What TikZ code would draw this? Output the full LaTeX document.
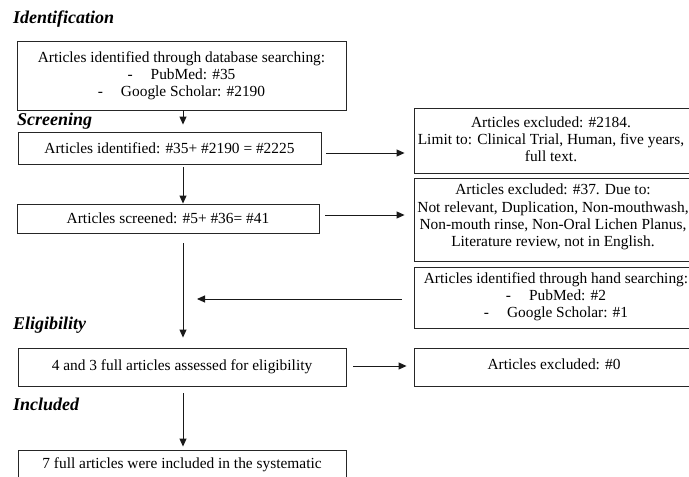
\documentclass[tikz,border=0pt]{standalone}
\usepackage{fontspec}
\setmainfont{Liberation Serif}
\usetikzlibrary{arrows.meta}
\begin{document}
\begin{tikzpicture}[x=1pt,y=-1pt,
 box/.style={draw=black!85,line width=0.9pt,inner sep=0pt,align=center,font=\fontsize{15.4}{17.2}\selectfont},
 txt/.style={inner sep=0pt,align=center,font=\fontsize{15.4}{17.2}\selectfont},
 head/.style={inner sep=0pt,anchor=base west,font=\fontsize{18}{20}\selectfont\bfseries\itshape},
 arr/.style={line width=0.9pt,draw=black!90,-{Triangle[length=8pt,width=7pt]}}]
\useasboundingbox (0,0) rectangle (689,477);
\clip (0,0) rectangle (689,477);

\node[head] (h1) at (13,23) {Identification};
\node[head] (h2) at (17,125) {Screening};
\node[head] (h3) at (13,329) {Eligibility};
\node[head] (h4) at (13,410) {Included};

\node[box,minimum width=329pt,minimum height=69pt] (A) at (181.5,75.5)
  {Articles identified through database searching:\\-\hspace{18pt}PubMed: \#35\\-\hspace{18pt}Google Scholar: \#2190};
\node[box,minimum width=303pt,minimum height=32pt] (B) at (169.5,148)
  {Articles identified: \#35+ \#2190 = \#2225};
\node[box,minimum width=302pt,minimum height=29pt] (C) at (168,218.5)
  {Articles screened: \#5+ \#36= \#41};
\node[box,minimum width=328pt,minimum height=38pt] (D) at (182,367)
  {4 and 3 full articles assessed for eligibility};
\node[box,minimum width=328pt,minimum height=60pt] (E) at (182,480) {};
\node[txt] (Et) at (182,465) {7 full articles were included in the systematic};

\node[box,minimum width=286pt,minimum height=65pt] (R1) at (557,140.5) {};
\node[txt] (R1t) at (551,139) {Articles excluded: \#2184.\\Limit to: Clinical Trial, Human, five years,\\full text.};
\node[box,minimum width=286pt,minimum height=83pt] (R2) at (557,219.5) {};
\node[txt] (R2t) at (553,217) {Articles excluded: \#37. Due to:\\Not relevant, Duplication, Non-mouthwash,\\Non-mouth rinse, Non-Oral Lichen Planus,\\Literature review, not in English.};
\node[box,minimum width=286pt,minimum height=61pt] (R3) at (557,297.5) {};
\node[txt] (R3t) at (556,297) {Articles identified through hand searching:\\-\hspace{18pt}PubMed: \#2\\-\hspace{18pt}Google Scholar: \#1};
\node[box,minimum width=286pt,minimum height=38pt] (R4) at (557,367) {};
\node[txt] (R4t) at (554,364) {Articles excluded: \#0};

\coordinate (sp) at (183,0);
\draw[arr,shorten >=7pt] (sp |- A.south) -- (sp |- B.north);
\draw[arr,shorten <=3pt] (sp |- B.south) -- (sp |- C.north);
\draw[arr,shorten <=10pt,shorten >=10pt] (sp |- C.south) -- (sp |- D.north);
\draw[arr,shorten <=7pt,shorten >=3pt] (sp |- D.south) -- (sp |- E.north);
\draw[arr,shorten <=5pt,shorten >=9pt] ([yshift=-5pt]B.east) -- ([yshift=-5pt]B.east -| R1.west);
\draw[arr,shorten <=6pt,shorten >=9pt] ([yshift=3.5pt]C.east) -- ([yshift=3.5pt]C.east -| R2.west);
\draw[arr,shorten <=12pt,shorten >=14pt] ([yshift=-1.5pt]R3.west) -- ([yshift=-1.5pt]R3.west -| sp);
\draw[arr,shorten <=7pt,shorten >=7pt] ([yshift=1pt]D.east) -- ([yshift=1pt]D.east -| R4.west);
\end{tikzpicture}
\end{document}
